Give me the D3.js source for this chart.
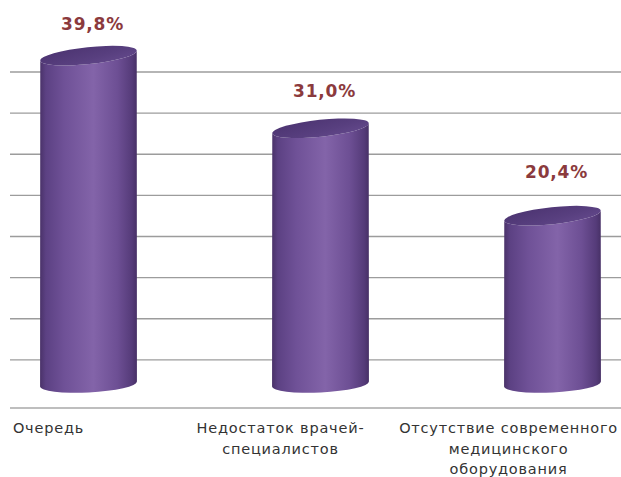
<!DOCTYPE html>
<html>
<head>
<meta charset="utf-8">
<script src="https://cdn.jsdelivr.net/npm/d3@7"></script>
<style>
html,body{margin:0;padding:0;background:#fff;}
svg{display:block;}
</style>
</head>
<body>
<svg id="chart" width="621" height="477"></svg>
<script>
// ---- data ----
const categories = ["Очередь", "Недостаток врачей-специалистов", "Отсутствие современного медицинского оборудования"];
const categoryLines = [["Очередь"], ["Недостаток врачей-", "специалистов"], ["Отсутствие современного", "медицинского", "оборудования"]];
const values = [39.8, 31.0, 20.4];
const valueLabels = ["39,8%", "31,0%", "20,4%"];
const gridTicks = [5, 10, 15, 20, 25, 30, 35, 40];

const W = 621, H = 477;
const svg = d3.select("#chart");

// scales
const x = d3.scalePoint().domain(categories).range([88.5, 552.5]);
const wallY = d3.scaleLinear().domain([0, 40]).range([401, 72]);   // back wall gridlines
const barY = d3.scaleLinear().domain([0, 40]).range([384, 54]);    // bar front
const labelY = d3.scaleLinear().domain([0, 40]).range([334.5, 28.5]);

const rx = 48.5, ry = 8.5;
const topRot = -6, botRot = -3;

// gradients
const defs = svg.append("defs");
const bodyGrad = defs.append("linearGradient").attr("id", "body").attr("x1", "0").attr("x2", "1").attr("y1", "0").attr("y2", "0");
[[0, "#4a3269"], [0.06, "#5c4183"], [0.25, "#6f5197"], [0.55, "#8364a9"], [0.8, "#6d4f94"], [0.95, "#553b79"], [1, "#473066"]]
  .forEach(([o, c]) => bodyGrad.append("stop").attr("offset", o).attr("stop-color", c));
const topGrad = defs.append("linearGradient").attr("id", "top").attr("x1", "0").attr("x2", "1").attr("y1", "0").attr("y2", "1");
[[0, "#4b3370"], [0.6, "#583f7f"], [1, "#654a8d"]]
  .forEach(([o, c]) => topGrad.append("stop").attr("offset", o).attr("stop-color", c));

// gridlines
svg.append("g").selectAll("line").data(gridTicks).join("line")
  .attr("x1", 10).attr("x2", W)
  .attr("y1", d => wallY(d)).attr("y2", d => wallY(d))
  .attr("stroke", "#9c9c9c").attr("stroke-width", 1.4);

// floor front line
svg.append("line").attr("x1", 10).attr("x2", W)
  .attr("y1", wallY(0) + 7).attr("y2", wallY(0) + 7)
  .attr("stroke", "#a8a8a8").attr("stroke-width", 1.4);

function endPts(cx, cy, rot) {
  const a = rot * Math.PI / 180;
  return [[cx - rx * Math.cos(a), cy - rx * Math.sin(a)], [cx + rx * Math.cos(a), cy + rx * Math.sin(a)]];
}

const bars = svg.append("g").selectAll("g").data(categories).join("g");
bars.each(function (c, i) {
  const g = d3.select(this);
  const cx = x(c);
  const yt = barY(values[i]);
  const yb = barY(0);
  const [lt, rt] = endPts(cx, yt, topRot);
  const [lb, rb] = endPts(cx, yb, botRot);
  const p = `M${lt[0]},${lt[1]} L${lb[0]},${lb[1]} A${rx},${ry} ${botRot} 0 0 ${rb[0]},${rb[1]} L${rt[0]},${rt[1]} A${rx},${ry} ${topRot} 0 1 ${lt[0]},${lt[1]} Z`;
  g.append("path").attr("d", p).attr("fill", "url(#body)");
  g.append("ellipse").attr("cx", cx).attr("cy", yt).attr("rx", rx).attr("ry", ry)
    .attr("transform", `rotate(${topRot},${cx},${yt})`)
    .attr("fill", "url(#top)");
});

// value labels
svg.append("g").selectAll("text").data(categories).join("text")
  .attr("x", (c, i) => x(c) + 4)
  .attr("y", (c, i) => labelY(values[i]))
  .attr("text-anchor", "middle")
  .attr("font-family", "DejaVu Sans, sans-serif")
  .attr("font-weight", "bold")
  .attr("font-size", 17)
  .attr("letter-spacing", 0.8)
  .attr("fill", "#8b3a3d")
  .text((c, i) => valueLabels[i]);

// category labels
const catG = svg.append("g");
categories.forEach((c, i) => {
  const t = catG.append("text")
    .attr("font-family", "DejaVu Sans, sans-serif")
    .attr("font-size", 14.5)
    .attr("letter-spacing", 0.8)
    .attr("fill", "#333")
    .attr("text-anchor", "middle");
  categoryLines[i].forEach((ln, j) => {
    t.append("tspan").attr("x", 0).attr("y", 433 + j * 20.5).text(ln);
  });
  const bb = t.node().getBBox();
  let center = x(c) - 40;
  const half = bb.width / 2;
  if (center - half < 12) center = 12 + half;
  if (center + half > 618) center = 618 - half;
  t.selectAll("tspan").attr("x", center);
});
</script>
</body>
</html>
